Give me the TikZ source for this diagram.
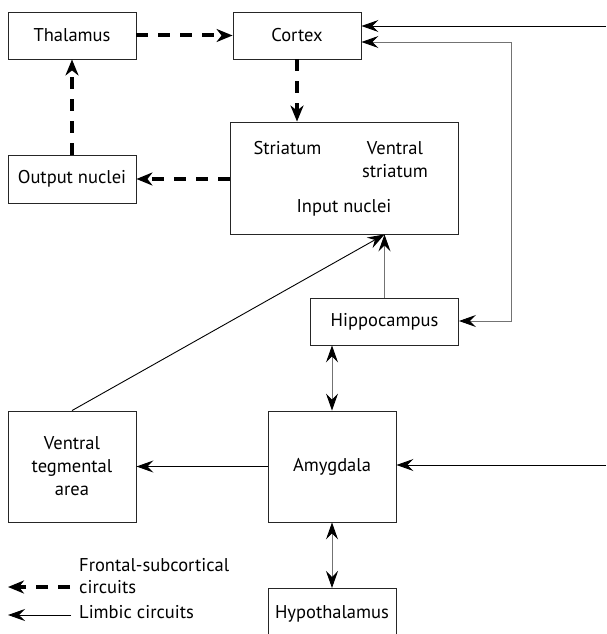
\documentclass[tikz,border=0pt]{standalone}
\usepackage{fontspec}
\setmainfont{PT Sans}
\usetikzlibrary{arrows.meta}
\begin{document}
\begin{tikzpicture}[x=1pt,y=-1pt,
  box/.style={draw=black!85,line width=0.9pt,rectangle,align=center,inner sep=0pt,font=\fontsize{18.5}{23}\selectfont},
  lab/.style={align=left,inner sep=0pt,font=\fontsize{18.5}{22}\selectfont},
  txt/.style={inner sep=0pt,font=\fontsize{18.5}{23}\selectfont},
  fsc/.style={line width=4pt,dash pattern=on 12pt off 10pt,-{Stealth[length=16pt,width=13pt,inset=5pt]}},
  tip/.style={Stealth[length=17pt,width=12pt,inset=6pt,color=black,fill=black]},
  lim/.style={line width=0.9pt,-{Stealth[length=17pt,width=12pt,inset=6pt]}},
  limd/.style={line width=0.9pt,{Stealth[length=17pt,width=12pt,inset=6pt,color=black,fill=black]}-{Stealth[length=17pt,width=12pt,inset=6pt,color=black,fill=black]}},
  grey/.style={draw=black!55}]
\clip (0,0) rectangle (606,634);
\fill[white] (0,0) rectangle (606,634);
% nodes
\node[box,minimum width=128pt,minimum height=47pt] (thal) at (72,35.5) {Thalamus};
\node[box,minimum width=128pt,minimum height=47pt] (cort) at (297,35.5) {Cortex};
\node[box,minimum width=128pt,minimum height=48pt] (outn) at (72,179) {Output nuclei};
\node[box,minimum width=228pt,minimum height=112pt] (inn) at (344,178) {};
\node[txt] (str) at (287.5,148) {Striatum};
\node[txt,align=center] (vstr) at (395,160) {Ventral\\striatum};
\node[txt] (inl) at (344,208) {Input nuclei};
\node[box,minimum width=148pt,minimum height=47pt] (hip) at (384.5,321.5) {Hippocampus};
\node[box,minimum width=128pt,minimum height=111pt] (vta) at (72,466.5) {Ventral\\tegmental\\area};
\node[box,minimum width=128pt,minimum height=111pt] (amy) at (332,466.5) {Amygdala};
\node[box,minimum width=128pt,minimum height=50pt,anchor=north] (hyp) at (332,588) {Hypothalamus};
% coordinates
\coordinate (r1) at (606,26);
\coordinate (c2) at (511,42);
\coordinate (c3) at (511,321);
\coordinate (r2) at (606,465);
\coordinate (in1) at (hip.north |- inn.south);
% frontal-subcortical
\draw[fsc] (thal.east) -- (cort.west);
\draw[fsc] (cort.south) -- (inn.north -| cort.south);
\draw[fsc] (inn.west |- outn.east) -- (outn.east);
\draw[fsc] (outn.north) -- (thal.south);
% limbic
\draw[lim] (r1) -- (r1 -| cort.east);
\draw[limd,grey] (c2 -| cort.east) -- (c2) -- (c3) -- (c3 -| hip.east);
\draw[grey,line width=0.9pt,-{Stealth[length=17pt,width=12pt,inset=6pt,color=black,fill=black]}] (hip.north) -- (in1);
\draw[lim] (vta.north) -- (in1);
\draw[lim] (amy.west) -- (vta.east);
\draw[lim] (r2) -- (r2 -| amy.east);
\draw[limd,grey] (hip.south -| amy.north) -- (amy.north);
\draw[limd,grey] (amy.south) -- (hyp.north);
% legend
\coordinate (l1a) at (70,587);
\coordinate (l1b) at (8,587);
\coordinate (l2a) at (71,615);
\coordinate (l2b) at (8,615);
\draw[fsc] (l1a) -- (l1b);
\draw[lim] (l2a) -- (l2b);
\node[lab,anchor=west] (lf) at (79,576) {Frontal-subcortical\\circuits};
\node[lab,anchor=west] (ll) at (79,612) {Limbic circuits};
\end{tikzpicture}
\end{document}
